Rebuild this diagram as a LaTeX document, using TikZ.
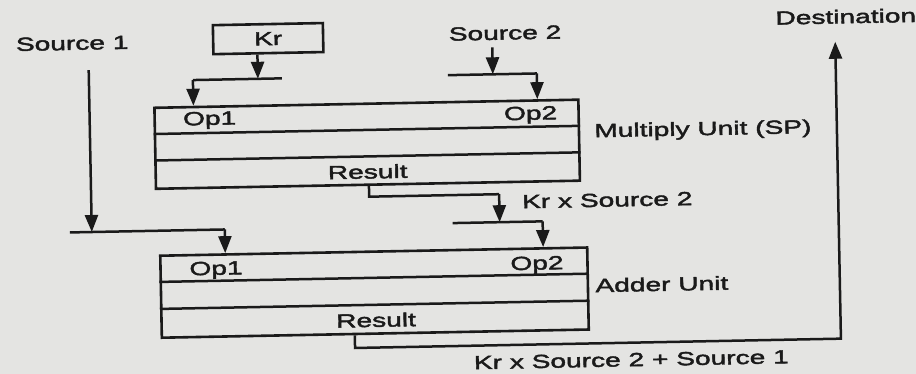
\documentclass[tikz,border=0pt]{standalone}
\usepackage{fontspec}
\setmainfont{Liberation Sans}[FakeStretch=1.48,FakeBold=2.2]
\usetikzlibrary{arrows.meta,calc}
\definecolor{ink}{HTML}{1A1A1A}
\definecolor{paper}{HTML}{E4E4E2}
\tikzset{
  wire/.style={draw=ink,line width=2.5pt},
  arr/.style={wire,-{Triangle[length=17pt,width=13pt]}},
  unitbox/.style={draw=ink,line width=2.6pt,rectangle,inner sep=0pt},
  lbl/.style={text=ink,font=\fontsize{19}{21}\selectfont,inner sep=0pt},
}
\begin{document}
\begin{tikzpicture}[x=1pt,y=-1pt]
\fill[paper] (0,0) rectangle (916,374);
\useasboundingbox (0,0) rectangle (916,374);
\begin{scope}[rotate around={1.1:(458,187)},transform shape]
  % boxes
  \node[unitbox,minimum width=110pt,minimum height=29pt] (kr) at (271,35) {};
  \node[lbl] (krt) at (kr.center) {Kr};
  \node[unitbox,minimum width=424pt,minimum height=81pt] (mul) at (368,142.5) {};
  \node[unitbox,minimum width=427pt,minimum height=82pt] (add) at (372.5,291) {};
  % row lines
  \draw[wire] ($(mul.north west)+(0,27.5)$) -- ($(mul.north east)+(0,27.5)$);
  \draw[wire] ($(mul.north west)+(0,54)$) -- ($(mul.north east)+(0,54)$);
  \draw[wire] ($(add.north west)+(0,27.5)$) -- ($(add.north east)+(0,27.5)$);
  \draw[wire] ($(add.north west)+(0,54.5)$) -- ($(add.north east)+(0,54.5)$);
  % texts
  \node[lbl] (s1) at (75,36) {Source 1};
  \node[lbl] (s2) at (508,34) {Source 2};
  \node[lbl] (dest) at (849,24) {Destination};
  \node[lbl] (mlabel) at (704,135) {Multiply Unit (SP)};
  \node[lbl] (klabel) at (607,203) {Kr x Source 2};
  \node[lbl] (alabel) at (660,288) {Adder Unit};
  \node[lbl] (flabel) at (628,363) {Kr x Source 2 + Source 1};
  \node[lbl] (mop1) at (211,115.5) {Op1};
  \node[lbl] (mop2) at (532,116.5) {Op2};
  \node[lbl] (mres) at (368,170) {Result};
  \node[lbl] (aop1) at (214.5,265.5) {Op1};
  \node[lbl] (aop2) at (535.5,266.5) {Op2};
  \node[lbl] (ares) at (373.5,318.5) {Result};
  % Kr connectors
  \coordinate (kj) at (260,75);
  \coordinate (kl) at (195,75);
  \coordinate (kr2) at (284,75);
  \draw[arr] (kr.south -| kj) -- (kj);
  \draw[wire] (kl) -- (kr2);
  \draw[arr] (kl) -- (kl |- mul.north);
  % Source 2 connectors
  \coordinate (s2top) at (495,48);
  \coordinate (s2j) at (495,75);
  \coordinate (s2l) at (450,75);
  \coordinate (s2r) at (539,75);
  \draw[arr] (s2top) -- (s2j);
  \draw[wire] (s2l) -- (s2r);
  \draw[arr] (s2r) -- (s2r |- mul.north);
  % Source 1 connectors
  \coordinate (s1top) at (91,63);
  \coordinate (s1j) at (91,225);
  \coordinate (s1l) at (69,225);
  \coordinate (s1r) at (224,225);
  \draw[arr] (s1top) -- (s1j);
  \draw[wire] (s1l) -- (s1r);
  \draw[arr] (s1r) -- (s1r |- add.north);
  % multiply result to adder
  \coordinate (mr1) at (369,195);
  \coordinate (mr2) at (499,195);
  \coordinate (mj) at (499,223);
  \coordinate (ml) at (452,223);
  \coordinate (mr) at (542,223);
  \draw[wire] (mr1 |- mul.south) -- (mr1) -- (mr2);
  \draw[arr] (mr2) -- (mj);
  \draw[wire] (ml) -- (mr);
  \draw[arr] (mr) -- (mr |- add.north);
  % adder result to destination
  \coordinate (ar1) at (352,346);
  \coordinate (ar2) at (838,346);
  \coordinate (dtip) at (838,49);
  \draw[arr] (ar1 |- add.south) -- (ar1) -- (ar2) -- (dtip);
\end{scope}
\end{tikzpicture}
\end{document}
